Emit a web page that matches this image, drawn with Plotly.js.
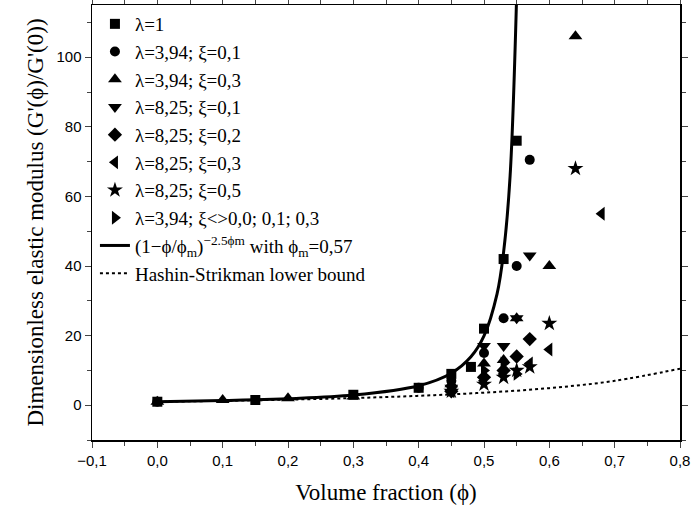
<!DOCTYPE html>
<html>
<head>
<meta charset="utf-8">
<script src="https://cdn.plot.ly/plotly-3.0.1.min.js"></script>
<style>body{margin:0}#plot{width:696px;height:515px}</style>
</head>
<body>
<div id="plot"></div>
<script>
"use strict"

// measured series (volume fraction, G'(phi)/G'(0))
const sqX = [0, 0.15, 0.3, 0.4, 0.45, 0.48, 0.5, 0.53, 0.55]
const sqY = [1, 1.5, 3, 5, 9, 11, 22, 42, 76]
const ciX = [0, 0.4, 0.45, 0.5, 0.53, 0.55, 0.57]
const ciY = [1, 5, 7, 15, 25, 40, 70.5]
const tuX = [0, 0.1, 0.2, 0.3, 0.45, 0.5, 0.53, 0.55, 0.6, 0.64]
const tuY = [1, 1.5, 2, 2.5, 6, 12, 13, 25, 40, 106]
const tdX = [0.45, 0.5, 0.53, 0.55, 0.57]
const tdY = [5, 17, 17, 25, 43]
const diX = [0.45, 0.5, 0.53, 0.55, 0.57]
const diY = [4, 8, 10, 14, 19]
const tlX = [0.45, 0.5, 0.53, 0.57, 0.6, 0.68]
const tlY = [4, 7, 9, 12, 16, 55]
const stX = [0.45, 0.5, 0.53, 0.55, 0.57, 0.6, 0.64]
const stY = [4, 6, 8, 10, 11, 23.5, 68]
const trX = [0.45, 0.5, 0.53, 0.55]
const trY = [5, 10, 12, 9]

// model curve and lower bound
const fitX = [0, 0.1, 0.2, 0.3, 0.4, 0.45, 0.48, 0.5, 0.52, 0.53, 0.54, 0.55]
const fitY = [1, 1.32, 1.85, 2.9, 5.6, 9.2, 13.9, 19.9, 32, 44, 66, 118]
const hsX = [0, 0.1, 0.2, 0.3, 0.4, 0.5, 0.6, 0.7, 0.8]
const hsY = [1, 1.25, 1.6, 2.05, 2.7, 3.6, 4.9, 7, 10.5]

const names = ["λ=1", "λ=3,94; ξ=0,1", "λ=3,94; ξ=0,3", "λ=8,25; ξ=0,1",
  "λ=8,25; ξ=0,2", "λ=8,25; ξ=0,3", "λ=8,25; ξ=0,5", "λ=3,94; ξ<>0,0; 0,1; 0,3"]
const symbols = ["square", "circle", "triangle-up", "triangle-down",
  "diamond", "triangle-left", "star", "triangle-right"]
const sizes = [10, 10, 12, 12, 11, 12, 12, 12]
const xs = [sqX, ciX, tuX, tdX, diX, tlX, stX, trX]
const ys = [sqY, ciY, tuY, tdY, diY, tlY, stY, trY]

const data = names.map((n,i)=>({
  x: xs[i], y: ys[i], name: n, mode: "markers", type: "scatter",
  marker: {symbol: symbols[i], size: sizes[i], color: "black"}
}))
data.push({x: fitX, y: fitY, name: "(1−ϕ/ϕ<sub>m</sub>)<sup>−2.5ϕm</sup> with ϕ<sub>m</sub>=0,57",
  mode: "lines", line: {color: "black", width: 3, shape: "spline"}})
data.push({x: hsX, y: hsY, name: "Hashin-Strikman lower bound",
  mode: "lines", line: {color: "black", width: 2, dash: "dot", shape: "spline"}})

const serif = "Liberation Serif, Times New Roman"
const axisFont = {family: "Liberation Sans, Arial", size: 15, color: "black"}
const layout = {
  width: 696, height: 515,
  margin: {l: 92, r: 16, t: 5, b: 75},
  separators: ",.",
  showlegend: true,
  legend: {x: 0.005, y: 1, xanchor: "left", yanchor: "top", bgcolor: "rgba(0,0,0,0)",
    font: {family: serif, size: 19, color: "black"},
    tracegroupgap: 0, itemwidth: 30},
  xaxis: {range: [-0.1, 0.8], dtick: 0.1, tickformat: ".1f", ticks: "outside", ticklen: 6,
    showline: true, linewidth: 1.5, linecolor: "black", mirror: "allticks", showgrid: false,
    zeroline: false, tickfont: axisFont,
    minor: {dtick: 0.05, ticks: "outside", ticklen: 4},
    title: {text: "Volume fraction (ϕ)", standoff: 16,
      font: {family: serif, size: 23, color: "black"}}},
  yaxis: {range: [-10, 115], dtick: 20, ticks: "outside", ticklen: 6,
    showline: true, linewidth: 1.5, linecolor: "black", mirror: "allticks", showgrid: false,
    zeroline: false, tickfont: axisFont,
    minor: {dtick: 10, ticks: "outside", ticklen: 4},
    title: {text: "Dimensionless elastic modulus (G'(ϕ)/G'(0))", standoff: 6,
      font: {family: serif, size: 23, color: "black"}}},
  plot_bgcolor: "white", paper_bgcolor: "white"
}

Plotly.newPlot("plot", data, layout, {displayModeBar: false, staticPlot: true})
</script>
</body>
</html>
